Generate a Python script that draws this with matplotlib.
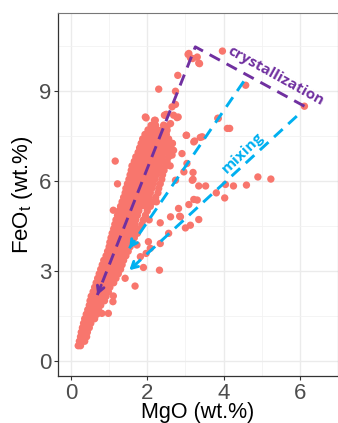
import numpy as np
import matplotlib
matplotlib.use("Agg")
import matplotlib.pyplot as plt

# ---------------- data ----------------
# dense core of the data cloud, written row by row (MgO values, FeOt value per row)
mgo_core = [
    0.19, 0.25,
    0.22, 0.30, 0.36,
    0.25, 0.33, 0.41,
    0.27, 0.35, 0.43,
    0.30, 0.39, 0.48,
    0.33, 0.42, 0.52,
    0.36, 0.46, 0.56, 0.62,
    0.40, 0.50, 0.60, 0.68,
    0.44, 0.54, 0.64, 0.72,
    0.48, 0.58, 0.68, 0.78,
    0.50, 0.60, 0.70, 0.80, 0.88,
    0.53, 0.63, 0.73, 0.83, 0.92,
    0.58, 0.68, 0.78, 0.88, 0.98,
    0.62, 0.72, 0.82, 0.92, 1.02,
    0.66, 0.76, 0.86, 0.96, 1.06, 1.12,
    0.70, 0.80, 0.90, 1.00, 1.10, 1.18,
    0.74, 0.84, 0.94, 1.04, 1.14, 1.24,
    0.78, 0.88, 0.98, 1.08, 1.18, 1.30,
    0.82, 0.92, 1.02, 1.12, 1.22, 1.34,
    0.86, 0.96, 1.06, 1.16, 1.26, 1.38,
    0.92, 1.02, 1.12, 1.22, 1.32, 1.44,
    0.96, 1.06, 1.16, 1.26, 1.36, 1.50,
    1.00, 1.10, 1.20, 1.30, 1.40, 1.55,
    1.02, 1.12, 1.22, 1.32, 1.42, 1.58,
    1.05, 1.15, 1.25, 1.35, 1.45, 1.55, 1.66,
    1.08, 1.18, 1.28, 1.38, 1.48, 1.60, 1.74,
    1.12, 1.22, 1.32, 1.42, 1.52, 1.64, 1.80,
    1.15, 1.25, 1.35, 1.45, 1.55, 1.68, 1.86,
    1.18, 1.28, 1.38, 1.48, 1.58, 1.70, 1.90, 2.05,
    1.22, 1.32, 1.42, 1.52, 1.62, 1.74, 1.95,
    1.26, 1.36, 1.46, 1.56, 1.66, 1.78, 2.00,
    1.30, 1.40, 1.50, 1.60, 1.70, 1.82, 1.96, 2.08,
    1.34, 1.44, 1.54, 1.64, 1.74, 1.86, 2.00, 2.15, 2.24,
    1.38, 1.48, 1.58, 1.68, 1.78, 1.90, 2.04, 2.22,
    1.42, 1.52, 1.62, 1.72, 1.82, 1.94, 2.08, 2.28,
    1.44, 1.54, 1.64, 1.74, 1.86, 1.98, 2.12, 2.30,
    1.48, 1.58, 1.68, 1.78, 1.90, 2.02, 2.16, 2.34,
    1.52, 1.62, 1.72, 1.82, 1.94, 2.06, 2.20, 2.38,
    1.55, 1.65, 1.76, 1.88, 1.98, 2.10, 2.24, 2.40,
    1.58, 1.68, 1.80, 1.92, 2.02, 2.14, 2.28, 2.44,
    1.60, 1.72, 1.84, 1.96, 2.06, 2.18, 2.32, 2.48, 2.60,
    1.66, 1.78, 1.90, 2.00, 2.10, 2.22, 2.36, 2.52,
    1.70, 1.82, 1.94, 2.04, 2.14, 2.26, 2.40, 2.56,
    1.76, 1.88, 1.98, 2.08, 2.18, 2.30, 2.44, 2.60,
    1.80, 1.92, 2.02, 2.12, 2.22, 2.34, 2.48, 2.62,
    1.84, 1.96, 2.06, 2.16, 2.26, 2.38, 2.52, 2.66,
    1.88, 2.00, 2.10, 2.20, 2.30, 2.42, 2.56,
    1.94, 2.06, 2.16, 2.26, 2.38, 2.50,
    2.02, 2.14, 2.26, 2.38,
    2.10, 2.22,
]
feo_core = (
    [0.50] * 2 + [0.65] * 3 + [0.80] * 3 + [0.95] * 3 + [1.10] * 3 + [1.25] * 3
    + [1.40] * 4 + [1.55] * 4 + [1.70] * 4 + [1.85] * 4 + [2.00] * 5 + [2.15] * 5
    + [2.30] * 5 + [2.45] * 5 + [2.60] * 6 + [2.75] * 6 + [2.90] * 6 + [3.05] * 6
    + [3.20] * 6 + [3.35] * 6 + [3.50] * 6 + [3.65] * 6 + [3.80] * 6 + [3.95] * 6
    + [4.10] * 7 + [4.25] * 7 + [4.40] * 7 + [4.55] * 7 + [4.70] * 8 + [4.85] * 7
    + [5.00] * 7 + [5.15] * 8 + [5.30] * 9 + [5.45] * 8 + [5.60] * 8 + [5.75] * 8
    + [5.90] * 8 + [6.05] * 8 + [6.20] * 8 + [6.35] * 8 + [6.50] * 9 + [6.65] * 8
    + [6.80] * 8 + [6.95] * 8 + [7.10] * 8 + [7.25] * 8 + [7.40] * 7 + [7.55] * 6
    + [7.70] * 4 + [7.85] * 2
)

# scattered points outside the dense core
mgo_sparse = [
    2.30, 1.97, 2.19, 2.45, 2.15, 1.16, 1.22, 1.11, 1.38,
    3.07, 3.13, 3.37, 3.31, 3.97, 2.80, 2.74, 2.74, 2.81, 2.50, 2.61, 2.43, 2.52,
    2.37, 2.16, 3.02, 3.24, 3.39, 3.85, 4.10, 3.09, 3.19, 3.35, 2.69, 2.78,
    4.58, 3.86, 4.16, 3.03, 3.22, 3.44, 2.65, 2.69, 2.91, 3.04, 3.20, 3.20,
    2.74, 3.35, 3.53, 4.05, 4.26, 4.60, 4.90, 5.24, 3.81, 4.03, 3.22, 3.09,
    3.35, 3.00, 2.85, 2.96, 3.18, 3.31, 2.82, 2.87, 3.13, 2.61, 2.65,
    1.95, 2.21, 2.47, 2.65, 2.17, 2.52, 2.39,
    2.32, 1.68, 1.90, 1.42, 0.98, 0.81, 1.10, 1.11,
    1.73, 2.03, 2.08, 1.97, 1.82, 2.34, 2.56, 2.34,
    6.12,
]
feo_sparse = [
    9.06, 8.10, 8.02, 8.19, 7.71, 6.66, 5.90, 5.02, 5.30,
    10.22, 10.11, 9.91, 10.13, 10.33, 9.52, 8.99, 8.55, 8.13, 8.22, 7.91, 7.86, 7.82,
    7.69, 7.71, 7.52, 7.33, 7.45, 8.09, 7.75, 10.25, 10.08, 9.93, 8.19, 8.11,
    9.19, 8.08, 7.75, 7.52, 7.30, 7.47, 7.25, 7.02, 6.91, 6.58, 6.28, 6.05,
    6.02, 5.83, 5.83, 5.88, 5.83, 5.86, 6.13, 6.06, 5.60, 5.43, 5.38, 5.21,
    4.71, 4.43, 4.82, 6.30, 6.02, 5.36, 5.08, 4.80, 4.52, 4.80, 6.86,
    8.13, 8.02, 8.19, 8.47, 7.69, 7.69, 7.47,
    3.02, 2.49, 3.11, 2.75, 1.58, 1.58, 1.97, 2.16,
    3.86, 3.97, 3.75, 3.58, 3.47, 4.60, 4.25, 3.91,
    8.49,
]

# annotation paths
cryst_mgo = [6.12, 3.26, 0.69]
cryst_feo = [8.49, 10.47, 2.19]
mix1_mgo = [4.53, 1.53]
mix1_feo = [9.32, 3.75]
mix2_mgo = [5.92, 1.53]
mix2_feo = [8.16, 3.02]

x_ticks = [0, 2, 4, 6]
y_ticks = [0, 3, 6, 9]

# ---------------- figure ----------------
plt.rcParams['font.family'] = ['Liberation Sans', 'DejaVu Sans']

fig = plt.figure(figsize=(3.38, 4.23), dpi=100)
ax = fig.add_axes([58 / 338, 1 - 376 / 423, 280 / 338, 363 / 423])

ax.set_xlim(-0.34, 7.0)
ax.set_ylim(-0.51, 11.6)

ax.set_xticks(x_ticks)
ax.set_yticks(y_ticks)
ax.set_xticks([1, 3, 5], minor=True)
ax.set_yticks([1.5, 4.5, 7.5, 10.5], minor=True)
ax.grid(which='major', color='#EBEBEB', lw=1.0, zorder=0)
ax.grid(which='minor', color='#F2F2F2', lw=0.6, zorder=0)
ax.set_axisbelow(True)
ax.tick_params(which='minor', length=0)
ax.tick_params(which='major', length=3, width=0.8, color='#333333',
               labelsize=16, labelcolor='#4D4D4D', pad=2)

for s in ['left', 'bottom']:
    ax.spines[s].set_color('#333333')
    ax.spines[s].set_linewidth(0.9)
for s in ['top', 'right']:
    ax.spines[s].set_color('#777777')
    ax.spines[s].set_linewidth(0.8)

pt_color = '#F8766D'
ax.scatter(mgo_core, feo_core, s=28, color=pt_color, edgecolors='none', zorder=2)
ax.scatter(mgo_sparse, feo_sparse, s=28, color=pt_color, edgecolors='none', zorder=2)

purple = '#7030A0'
cyan = '#00B0F0'


def dashed_arrow(xs, ys, color, lw):
    ax.plot(xs, ys, color=color, lw=lw, ls=(0, (4.0, 2.6)), zorder=3,
            solid_capstyle='butt', dash_capstyle='butt')
    # arrow head at the final point
    x1, y1 = xs[-1], ys[-1]
    x0, y0 = xs[-2], ys[-2]
    fx = x1 + (x0 - x1) * 0.04
    fy = y1 + (y0 - y1) * 0.04
    ax.annotate('', xy=(x1, y1), xytext=(fx, fy),
                arrowprops=dict(arrowstyle='->,head_length=0.45,head_width=0.25',
                                color=color, lw=lw, shrinkA=0, shrinkB=0),
                zorder=3)


dashed_arrow(cryst_mgo, cryst_feo, purple, 2.1)
dashed_arrow(mix1_mgo, mix1_feo, cyan, 2.1)
dashed_arrow(mix2_mgo, mix2_feo, cyan, 2.1)

ax.text(5.38, 9.50, 'crystallization', color=purple, fontsize=10.9,
        fontweight='bold', family='Open Sans', rotation=-29,
        ha='center', va='center', rotation_mode='anchor', zorder=4)
ax.text(4.50, 6.95, 'mixing', color=cyan, fontsize=11.0,
        fontweight='bold', family='Open Sans', rotation=44,
        ha='center', va='center', rotation_mode='anchor', zorder=4)

ax.set_xlabel('MgO (wt.%)', fontsize=15.5, color='black', labelpad=-1.5)
ax.set_ylabel('FeO$_\\mathregular{t}$ (wt.%)', fontsize=16, color='black', labelpad=3)

fig.savefig('out.png', dpi=100)
